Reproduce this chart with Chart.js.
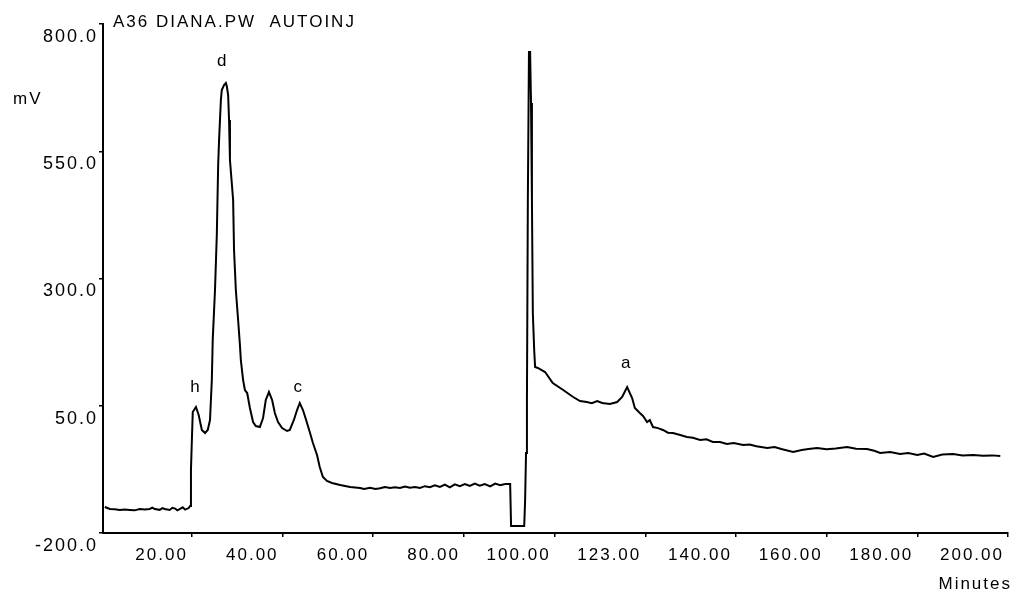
<!DOCTYPE html>
<html>
<head>
<meta charset="utf-8">
<script src="https://cdn.jsdelivr.net/npm/chart.js@4"></script>
<style>
  html, body { margin: 0; padding: 0; background: #fff; }
  #wrap { width: 1017px; height: 595px; }
</style>
</head>
<body>
<div id="wrap"><canvas id="chromChart" width="1017" height="595"></canvas></div>
<script>
// retention time (min) / detector signal (mV)
const minutes = [
  0.8, 1.9, 3.0, 4.1, 5.2, 6.3, 7.4, 8.5, 9.6, 10.7, 11.3, 11.8, 12.9, 13.5, 14.0, 15.1, 15.7, 16.3, 16.8, 17.4, 18.0, 18.5, 19.3,
  19.6, 19.8, 20.0, 20.2, 20.9, 21.5, 22.2, 22.9, 23.5, 24.0, 24.4, 24.6, 25.1, 25.5, 25.8, 26.0, 26.4, 26.6, 27.1, 27.5,
  27.7, 28.0, 28.2, 28.4, 29.1, 29.3, 29.7, 30.2, 30.6, 30.8, 31.3, 31.7, 32.2, 32.8, 33.5, 34.1, 35.0, 35.7, 36.3, 37.0,
  37.7, 38.3, 39.0, 39.9, 41.0, 41.6, 42.5, 43.2, 43.8, 44.5, 45.2, 46.0, 46.7, 47.6, 48.2, 48.9, 49.8, 50.9, 52.7, 54.9,
  57.1, 58.0, 59.3, 60.5, 61.5, 62.6, 63.7, 64.8, 65.9, 67.0, 68.1, 69.2, 70.3, 71.4, 72.5, 73.6, 74.7, 75.8, 76.9, 78.0,
  79.1, 80.2, 81.3, 82.4, 83.5, 84.6, 85.8, 86.9, 88.0, 89.1, 90.2, 90.4, 93.3, 93.5, 93.7, 93.9, 94.1, 94.35, 94.6, 94.8,
  95.0, 95.2, 95.5, 95.7, 96.3, 97.9, 99.6, 101.9, 104.1, 105.6, 107.1, 108.2, 109.4, 110.5, 112.2, 113.8, 114.9, 116.0,
  117.1, 117.7, 118.8, 119.5, 120.4, 121.0, 121.7, 122.8, 123.9, 125.0, 126.1, 127.5, 129.2, 130.5, 132.1, 133.5, 134.9,
  136.5, 138.0, 139.5, 141.6, 143.0, 144.5, 146.9, 148.5, 150.0, 152.6, 154.5, 156.0, 157.9, 160.0, 162.0, 164.5, 166.5,
  168.9, 170.5, 171.8, 174.0, 176.2, 178.0, 180.0, 181.5, 183.5, 185.5, 187.9, 190.0, 192.3, 194.5, 196.5, 198.3
];
const millivolts = [
  -148.9, -152.8, -153.5, -154.8, -154.0, -154.8, -155.5, -153.0, -153.8, -152.8, -150.0, -152.8, -154.5, -151.0, -152.8, -154.8, -150.5, -152.0, -155.5, -152.8, -149.5, -154.0, -151.0,
  -147.0, -76.2, -17.3, 37.7, 47.5, 31.8, 2.4, -3.5, 2.4, 22.0, 100.6, 179.2, 277.4, 385.4, 523.0, 572.0, 650.7, 670.3, 680.1, 684.1,
  678.2, 660.5, 611.4, 532.8, 454.2, 356.0, 277.4, 218.5, 169.3, 139.9, 100.6, 80.9, 75.0, 45.6, 18.1, 10.2, 8.2, 25.9, 61.3, 77.0,
  61.3, 35.8, 18.1, 6.3, 0.4, 2.4, 22.0, 41.6, 55.4, 41.6, 22.0, -1.6, -23.2, -46.8, -70.3, -90.0, -97.8, -101.8, -105.7, -109.6,
  -111.6, -113.6, -111.0, -113.6, -112.0, -109.6, -111.6, -110.0, -111.6, -108.5, -111.0, -109.6, -111.6, -108.0, -110.0, -106.5, -109.6, -105.0, -110.5, -104.5,
  -108.0, -104.0, -107.7, -103.0, -107.0, -104.0, -108.5, -103.0, -106.0, -103.7, -103.7, -186.2, -186.2, -135.2, -42.8, 61.3, 454.2, 745.0, 745.0, 644.8,
  454.2, 232.2, 159.5, 126.1, 124.2, 116.3, 94.7, 80.9, 67.2, 59.3, 57.4, 55.0, 59.3, 55.5, 53.4, 57.4, 67.2, 86.8,
  65.2, 45.6, 35.8, 30.0, 18.1, 22.0, 8.2, 6.0, 2.4, -3.0, -3.5, -7.0, -11.4, -13.0, -17.3, -16.0, -21.2,
  -21.2, -25.0, -23.0, -27.1, -26.0, -29.5, -33.0, -31.0, -35.0, -40.9, -37.0, -35.0, -33.0, -35.5, -34.0, -31.0, -34.5,
  -35.0, -38.5, -42.8, -41.0, -44.8, -43.0, -46.8, -44.0, -50.7, -46.0, -44.8, -47.5, -46.8, -48.0, -47.5, -48.7
];

// axis ticks (the original printout labels the 120 min tick "123.00")
const xTickValues = [20, 40, 60, 80, 100, 120, 140, 160, 180, 200];
const xTickLabels = ["20.00", "40.00", "60.00", "80.00", "100.00", "123.00", "140.00", "160.00", "180.00", "200.00"];
const yTickValues = [-200, 50, 300, 550, 800];

// peak letters
const peakNames = ["h", "d", "c", "a"];
const peakTimes = [20.9, 26.8, 43.6, 115.9];
const peakLevels = [87, 727, 87, 134];

const FONT = "'Liberation Sans', Arial, sans-serif";

const textPlugin = {
  id: "chromText",
  beforeDraw(chart) {
    chart.ctx.letterSpacing = "2px";
  },
  afterDraw(chart) {
    const { ctx, scales } = chart;
    ctx.save();
    ctx.fillStyle = "#000";
    ctx.letterSpacing = "2px";
    ctx.font = "17px " + FONT;
    ctx.textBaseline = "middle";
    ctx.textAlign = "left";
    ctx.fillText("A36 DIANA.PW  AUTOINJ", 113, 22);
    ctx.fillText("mV", 13, 99);
    ctx.textAlign = "right";
    ctx.fillText("Minutes", 1012, 584);
    ctx.textAlign = "center";
    peakNames.forEach((name, i) => {
      ctx.fillText(name, scales.x.getPixelForValue(peakTimes[i]), scales.y.getPixelForValue(peakLevels[i]));
    });
    ctx.restore();
  }
};

const ctx = document.getElementById("chromChart").getContext("2d");

new Chart(ctx, {
  type: "line",
  data: {
    datasets: [{
      data: minutes.map((t, i) => ({ x: t, y: millivolts[i] })),
      borderColor: "#000",
      borderWidth: 2,
      pointRadius: 0,
      tension: 0,
      fill: false
    }]
  },
  options: {
    responsive: false,
    animation: false,
    layout: { padding: { top: 24, right: 9, left: 0, bottom: 0 } },
    plugins: {
      legend: { display: false },
      tooltip: { enabled: false }
    },
    scales: {
      x: {
        type: "linear",
        min: 0.4,
        max: 200,
        afterBuildTicks: axis => { axis.ticks = xTickValues.map(v => ({ value: v })); },
        afterFit: axis => { axis.height = 62; },
        border: { display: true, color: "#000", width: 2 },
        grid: { display: true, drawOnChartArea: false, drawTicks: true, tickLength: 4, color: "#000", lineWidth: 1.5 },
        ticks: {
          align: "end",
          labelOffset: -4,
          maxRotation: 0,
          autoSkip: false,
          padding: 8,
          color: "#000",
          font: { family: FONT, size: 17 },
          callback: v => xTickLabels[xTickValues.indexOf(v)]
        }
      },
      y: {
        min: -200,
        max: 800,
        afterBuildTicks: axis => { axis.ticks = yTickValues.map(v => ({ value: v })); },
        afterFit: axis => { axis.width = 103; },
        border: { display: true, color: "#000", width: 2 },
        grid: { display: true, drawOnChartArea: false, drawTicks: true, tickLength: 4, color: "#000", lineWidth: 1.5 },
        ticks: {
          padding: 1,
          labelOffset: 13,
          color: "#000",
          font: { family: FONT, size: 18 },
          callback: v => v.toFixed(1)
        }
      }
    }
  },
  plugins: [textPlugin]
});
</script>
</body>
</html>
